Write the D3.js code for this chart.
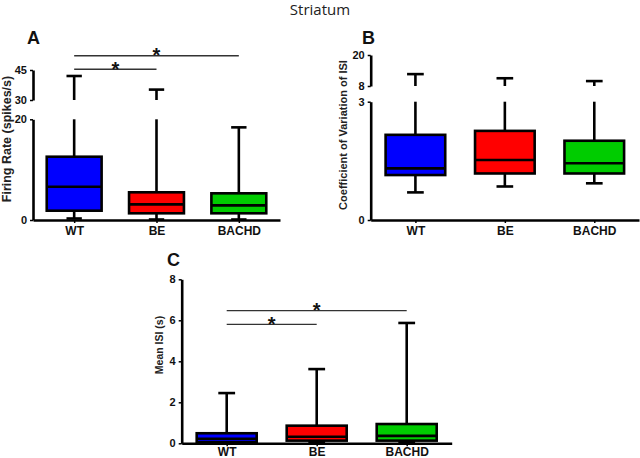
<!DOCTYPE html>
<html>
<head>
<meta charset="utf-8">
<script src="https://cdn.jsdelivr.net/npm/d3@7"></script>
<style>
  html, body { margin: 0; padding: 0; background: #fff; }
  svg { display: block; }
  text { font-family: "Liberation Sans", Arial, sans-serif; }
</style>
</head>
<body>
<svg id="chart" width="640" height="458"></svg>
<script>
// ---------------- DATA ----------------
const categories = ["WT", "BE", "BACHD"];
const boxColors = ["#0000ff", "#ff0000", "#00cc00"];

// Firing rate (spikes/s): [min, q1, median, q3, max] per category
const firingMin    = [0.3, 0.1, 0.1];
const firingQ1     = [1.85, 1.33, 1.33];
const firingMedian = [6.6, 3.1, 2.9];
const firingQ3     = [12.57, 5.5, 5.3];
const firingMax    = [42.0, 35.2, 18.4];
const firingTicksLow = [0, 20];
const firingTicksHigh = [30, 45];

// Coefficient of variation of ISI
const cvMin    = [0.70, 0.85, 0.93];
const cvQ1     = [1.14, 1.18, 1.18];
const cvMedian = [1.31, 1.52, 1.44];
const cvQ3     = [2.16, 2.26, 2.01];
const cvMax    = [12.6, 11.0, 9.9];
const cvTicksLow = [0, 3];
const cvTicksHigh = [8, 20];

// Mean ISI (s)
const isiMin    = [0.03, 0.05, 0.05];
const isiQ1     = [0.06, 0.13, 0.13];
const isiMedian = [0.22, 0.32, 0.36];
const isiQ3     = [0.49, 0.86, 0.94];
const isiMax    = [2.45, 3.62, 5.87];
const isiTicks  = [0, 2, 4, 6, 8];

// Significance brackets: [from, to, level]
const firingSig = [["WT", "BE", 45.35], ["WT", "BACHD", 52.15]];
const isiSig    = [["WT", "BE", 5.80], ["WT", "BACHD", 6.47]];

// ---------------- DRAWING ----------------
const svg = d3.select("#chart");
const SW = 2.6;

svg.append("text").attr("x", 320).attr("y", 15).attr("text-anchor", "middle")
  .style("font-family", "'Open Sans', sans-serif").style("font-size", "15px")
  .attr("fill", "#222").text("Striatum");

function drawPanel(cfg) {
  const g = svg.append("g");
  const x = d3.scalePoint().domain(categories).range([cfg.x0, cfg.x1]).padding(0.5);
  const step = x.step();
  const bw = step * 2 / 3;
  const capW = bw * 0.28;

  const segs = cfg.segments.map(s => ({
    scale: d3.scaleLinear().domain(s.domain).range(s.range),
    ticks: s.ticks
  }));
  function yOf(v) {
    for (const s of segs) {
      const d = s.scale.domain();
      if (v >= d[0] - 1e-9 && v <= d[1] + 1e-9) return s.scale(v);
    }
    return segs[segs.length - 1].scale(v);
  }
  function vline(cx, a, b) {
    const lo = Math.min(a, b), hi = Math.max(a, b);
    for (const s of segs) {
      const d = s.scale.domain();
      const l = Math.max(lo, d[0]), h = Math.min(hi, d[1]);
      if (h > l) {
        g.append("line").attr("x1", cx).attr("x2", cx)
          .attr("y1", s.scale(l)).attr("y2", s.scale(h))
          .attr("stroke", "#000").attr("stroke-width", SW);
      }
    }
  }

  segs.forEach(s => {
    const ax = g.append("g").attr("transform", `translate(${cfg.x0},0)`)
      .call(d3.axisLeft(s.scale).tickValues(s.ticks).tickFormat(d3.format("d"))
        .tickSize(3).tickSizeOuter(0).tickPadding(3));
    ax.select(".domain").attr("stroke-width", SW);
    ax.selectAll(".tick line").attr("stroke-width", 1.5);
    ax.selectAll("text").style("font-size", "11px").style("font-weight", "bold").attr("fill", "#111");
  });

  const xa = g.append("g").attr("transform", `translate(0,${cfg.yBase})`)
    .call(d3.axisBottom(x).tickSize(3).tickSizeOuter(0).tickPadding(cfg.xPad));
  xa.select(".domain").attr("stroke-width", SW);
  xa.selectAll(".tick line").attr("stroke-width", 1.5);
  xa.selectAll("text").style("font-size", "12px").style("font-weight", "bold").attr("fill", "#111");

  categories.forEach((c, i) => {
    const cx = x(c);
    vline(cx, cfg.q3[i], cfg.max[i]);
    vline(cx, cfg.min[i], cfg.q1[i]);
    g.append("line").attr("x1", cx - capW / 2).attr("x2", cx + capW / 2)
      .attr("y1", yOf(cfg.max[i])).attr("y2", yOf(cfg.max[i]))
      .attr("stroke", "#000").attr("stroke-width", SW);
    g.append("line").attr("x1", cx - capW / 2).attr("x2", cx + capW / 2)
      .attr("y1", yOf(cfg.min[i])).attr("y2", yOf(cfg.min[i]))
      .attr("stroke", "#000").attr("stroke-width", SW);
    g.append("rect").attr("x", cx - bw / 2).attr("width", bw)
      .attr("y", yOf(cfg.q3[i])).attr("height", yOf(cfg.q1[i]) - yOf(cfg.q3[i]))
      .attr("fill", boxColors[i]).attr("stroke", "#000").attr("stroke-width", SW);
    g.append("line").attr("x1", cx - bw / 2).attr("x2", cx + bw / 2)
      .attr("y1", yOf(cfg.median[i])).attr("y2", yOf(cfg.median[i]))
      .attr("stroke", "#000").attr("stroke-width", SW);
  });

  (cfg.sig || []).forEach(([a, b, lvl]) => {
    const yy = yOf(lvl);
    g.append("line").attr("x1", x(a)).attr("x2", x(b)).attr("y1", yy).attr("y2", yy)
      .attr("stroke", "#333").attr("stroke-width", 1.4);
    g.append("text").attr("x", (x(a) + x(b)) / 2).attr("y", yy + 6.5)
      .attr("text-anchor", "middle").style("font-size", "20px").style("font-weight", "bold")
      .attr("fill", "#111").text("*");
  });

  g.append("text").attr("x", cfg.letterX).attr("y", cfg.letterY)
    .style("font-size", "18px").style("font-weight", "bold").attr("fill", "#111").text(cfg.letter);

  g.append("text").attr("transform", `translate(${cfg.labX},${cfg.labY}) rotate(-90)`)
    .attr("text-anchor", "middle").style("font-size", cfg.labSize).style("font-weight", "bold")
    .attr("fill", "#222").text(cfg.label);
}

drawPanel({
  x0: 33, x1: 280, yBase: 220, xPad: 3,
  segments: [
    { domain: [0, 20], range: [220, 119.3], ticks: firingTicksLow },
    { domain: [30, 45], range: [100, 70], ticks: firingTicksHigh }
  ],
  min: firingMin, q1: firingQ1, median: firingMedian, q3: firingQ3, max: firingMax,
  sig: firingSig, letter: "A", letterX: 27, letterY: 44,
  label: "Firing Rate (spikes/s)", labX: 11, labY: 139, labSize: "12.5px"
});

drawPanel({
  x0: 370.7, x1: 639, yBase: 220, xPad: 3,
  segments: [
    { domain: [0, 3], range: [220, 101.7], ticks: cvTicksLow },
    { domain: [8, 20], range: [86, 55], ticks: cvTicksHigh }
  ],
  min: cvMin, q1: cvQ1, median: cvMedian, q3: cvQ3, max: cvMax,
  letter: "B", letterX: 362, letterY: 44,
  label: "Coefficient of Variation of ISI", labX: 346.5, labY: 135, labSize: "11px"
});

drawPanel({
  x0: 181.7, x1: 451.7, yBase: 443.3, xPad: 1,
  segments: [
    { domain: [0, 8], range: [443.3, 279.3], ticks: isiTicks }
  ],
  min: isiMin, q1: isiQ1, median: isiMedian, q3: isiQ3, max: isiMax,
  sig: isiSig, letter: "C", letterX: 167, letterY: 266,
  label: "Mean ISI (s)", labX: 163, labY: 345, labSize: "10.5px"
});
</script>
</body>
</html>
